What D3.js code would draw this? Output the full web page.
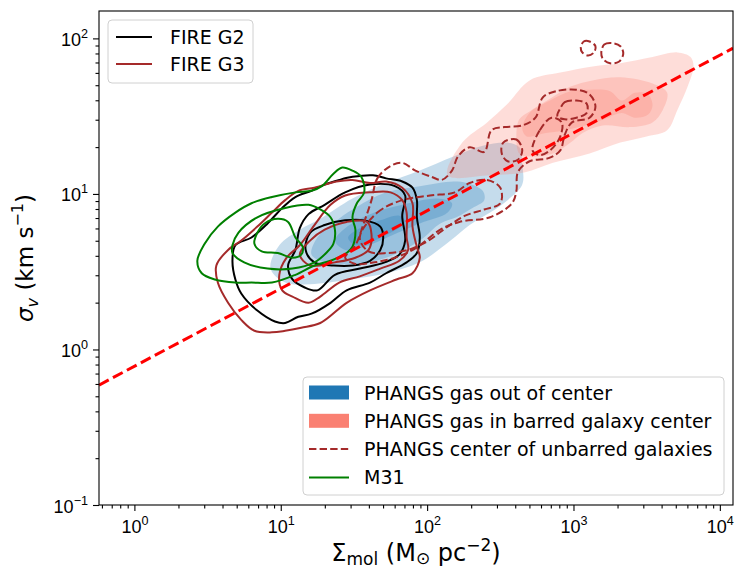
<!DOCTYPE html>
<html>
<head>
<meta charset="utf-8">
<script src="https://cdn.jsdelivr.net/npm/d3@7"></script>
<style>
  body { margin: 0; background: #fff; }
  svg { font-family: "DejaVu Sans", sans-serif; }
</style>
</head>
<body>
<div id="chart"></div>
<script>
// all contour points are [log10 Sigma_mol, log10 sigma_v]

// PHANGS gas out of center (filled, outer -> inner)
const blueLevels = [
  [[0.93,0.52],[0.99,0.67],[1.13,0.77],[1.27,0.84],[1.49,0.97],[1.72,1.07],[1.95,1.15],[2.18,1.24],[2.38,1.31],[2.55,1.33],[2.63,1.30],[2.65,1.19],[2.65,1.06],[2.55,0.96],[2.43,0.88],[2.29,0.80],[2.16,0.70],[1.95,0.56],[1.72,0.49],[1.47,0.45],[1.20,0.42],[1.03,0.43]],
  [[1.21,0.61],[1.25,0.72],[1.37,0.82],[1.49,0.90],[1.72,1.01],[1.95,1.05],[2.18,1.08],[2.27,1.07],[2.38,1.02],[2.39,0.96],[2.31,0.91],[2.20,0.85],[2.09,0.81],[1.95,0.70],[1.72,0.59],[1.49,0.55],[1.30,0.56]],
  [[1.37,0.70],[1.44,0.78],[1.61,0.87],[1.83,0.93],[2.07,0.97],[2.17,0.94],[2.14,0.88],[1.95,0.81],[1.75,0.73],[1.57,0.66],[1.44,0.64]],
  [[1.46,0.72],[1.54,0.78],[1.68,0.83],[1.81,0.86],[1.85,0.82],[1.75,0.75],[1.61,0.69],[1.51,0.67]]
];

// PHANGS gas in barred galaxy center (filled)
const pinkLevels = [
  [[2.14,1.12],[2.24,1.33],[2.41,1.46],[2.55,1.58],[2.70,1.73],[2.91,1.78],[3.13,1.82],[3.32,1.84],[3.54,1.88],[3.71,1.91],[3.80,1.88],[3.82,1.82],[3.78,1.69],[3.71,1.54],[3.64,1.41],[3.50,1.37],[3.32,1.33],[3.11,1.26],[2.86,1.20],[2.67,1.14],[2.43,1.12]],
  [[2.61,1.37],[2.63,1.48],[2.70,1.53],[2.82,1.60],[2.98,1.69],[3.13,1.73],[3.32,1.75],[3.54,1.71],[3.64,1.65],[3.61,1.54],[3.54,1.46],[3.39,1.43],[3.20,1.44],[3.06,1.39],[2.98,1.33],[2.86,1.26],[2.70,1.24],[2.63,1.26]],
  [[2.65,1.42],[2.70,1.52],[2.84,1.60],[2.98,1.66],[3.11,1.67],[3.25,1.66],[3.33,1.60],[3.42,1.65],[3.51,1.64],[3.54,1.57],[3.51,1.51],[3.42,1.49],[3.33,1.52],[3.21,1.48],[3.08,1.44],[2.94,1.41],[2.80,1.39],[2.68,1.37]]
];

// PHANGS center of unbarred galaxies (dashed)
const unbarredLevels = [
  [[1.62,0.96],[1.66,1.10],[1.75,1.18],[1.83,1.20],[1.92,1.15],[2.03,1.11],[2.10,1.09],[2.17,1.15],[2.21,1.24],[2.29,1.30],[2.39,1.27],[2.44,1.41],[2.53,1.43],[2.65,1.44],[2.74,1.49],[2.79,1.62],[2.88,1.66],[3.02,1.67],[3.11,1.64],[3.15,1.56],[3.11,1.49],[2.99,1.46],[2.94,1.38],[2.91,1.28],[2.83,1.23],[2.70,1.21],[2.62,1.14],[2.61,1.02],[2.58,0.94],[2.43,0.85],[2.22,0.82],[2.09,0.77],[1.92,0.65],[1.78,0.59],[1.64,0.56],[1.51,0.55],[1.44,0.59],[1.51,0.67],[1.57,0.82]],
  [[1.54,0.72],[1.66,0.88],[1.83,0.96],[2.02,0.99],[2.19,1.01],[2.29,1.07],[2.41,1.09],[2.50,1.04],[2.50,0.94],[2.39,0.90],[2.26,0.86],[2.14,0.79],[2.01,0.70],[1.87,0.64],[1.73,0.62],[1.60,0.63]],
  [[2.91,1.55],[2.94,1.59],[3.02,1.60],[3.09,1.58],[3.09,1.52],[3.02,1.49],[2.94,1.48],[2.89,1.50]],
  [[2.52,1.33],[2.61,1.35],[2.65,1.28],[2.62,1.22],[2.55,1.21],[2.51,1.26]],
  [[2.72,1.28],[2.77,1.41],[2.85,1.49],[2.92,1.46],[2.91,1.37],[2.84,1.28],[2.77,1.25]],
  [[3.05,1.94],[3.07,1.98],[3.11,1.98],[3.15,1.95],[3.14,1.91],[3.10,1.89],[3.06,1.91]],
  [[3.19,1.91],[3.21,1.96],[3.26,1.97],[3.32,1.95],[3.34,1.90],[3.31,1.85],[3.25,1.84],[3.20,1.87]]
];

const fireG2Levels = [
  [[0.69,0.67],[0.80,0.72],[0.91,0.81],[1.01,0.91],[1.10,0.98],[1.21,1.02],[1.30,1.06],[1.40,1.09],[1.49,1.11],[1.63,1.12],[1.72,1.10],[1.83,1.08],[1.90,1.04],[1.93,0.96],[1.93,0.85],[1.95,0.72],[1.93,0.62],[1.86,0.56],[1.72,0.49],[1.61,0.43],[1.45,0.38],[1.34,0.30],[1.21,0.23],[1.12,0.21],[1.03,0.17],[0.96,0.18],[0.84,0.25],[0.73,0.36],[0.69,0.45],[0.67,0.57]],
  [[1.13,0.78],[1.19,0.87],[1.30,0.93],[1.44,1.01],[1.61,1.06],[1.78,1.05],[1.85,0.99],[1.83,0.86],[1.85,0.70],[1.81,0.61],[1.71,0.56],[1.54,0.52],[1.37,0.48],[1.25,0.38],[1.16,0.40],[1.08,0.45],[1.05,0.54],[1.10,0.64]],
  [[1.20,0.75],[1.30,0.80],[1.44,0.83],[1.57,0.83],[1.68,0.79],[1.70,0.72],[1.68,0.64],[1.61,0.57],[1.49,0.54],[1.36,0.54],[1.23,0.56],[1.17,0.64]]
];

const fireG3Levels = [
  [[0.56,0.54],[0.64,0.64],[0.73,0.70],[0.84,0.79],[0.94,0.88],[1.03,0.96],[1.12,1.02],[1.23,1.04],[1.38,1.08],[1.49,1.09],[1.61,1.07],[1.72,1.08],[1.83,1.04],[1.90,0.94],[1.90,0.79],[1.93,0.66],[1.95,0.59],[1.90,0.49],[1.79,0.45],[1.61,0.38],[1.45,0.30],[1.27,0.17],[1.14,0.14],[1.03,0.12],[0.94,0.11],[0.82,0.12],[0.73,0.19],[0.64,0.30],[0.57,0.43]],
  [[0.99,0.48],[1.04,0.59],[1.13,0.67],[1.23,0.80],[1.34,0.93],[1.44,0.99],[1.61,1.01],[1.75,1.01],[1.83,0.96],[1.86,0.88],[1.86,0.72],[1.87,0.64],[1.81,0.57],[1.68,0.52],[1.54,0.47],[1.40,0.43],[1.27,0.34],[1.19,0.30],[1.08,0.34],[1.01,0.38]],
  [[1.13,0.61],[1.20,0.70],[1.30,0.77],[1.45,0.82],[1.59,0.82],[1.62,0.74],[1.60,0.64],[1.51,0.59],[1.37,0.56],[1.20,0.54]]
];

const m31Levels = [
  [[0.43,0.57],[0.48,0.68],[0.57,0.79],[0.69,0.88],[0.80,0.94],[0.94,0.98],[1.10,1.01],[1.21,1.02],[1.28,1.05],[1.36,1.13],[1.42,1.17],[1.49,1.15],[1.55,1.11],[1.57,1.01],[1.52,0.94],[1.49,0.85],[1.51,0.77],[1.49,0.66],[1.45,0.62],[1.34,0.57],[1.23,0.54],[1.10,0.48],[0.94,0.43],[0.80,0.43],[0.69,0.43],[0.55,0.45],[0.46,0.49]],
  [[0.67,0.67],[0.71,0.75],[0.84,0.85],[1.03,0.91],[1.19,0.93],[1.27,0.90],[1.34,0.85],[1.37,0.77],[1.36,0.68],[1.31,0.62],[1.23,0.56],[1.08,0.52],[0.91,0.52],[0.75,0.56],[0.67,0.62]],
  [[0.84,0.75],[0.89,0.81],[0.98,0.84],[1.05,0.82],[1.10,0.72],[1.15,0.66],[1.14,0.61],[1.08,0.59],[0.98,0.62],[0.87,0.63],[0.82,0.68]]
];

// sigma_v vs Sigma_mol relation, end points
const fitLine = [[0.573, 0.59], [12300, 86.5]];

const xTickExps = [0, 1, 2, 3, 4];
const yTickExps = [-1, 0, 1, 2];
const fireLegend = ['FIRE G2', 'FIRE G3'];
const phangsLegend = ['PHANGS gas out of center', 'PHANGS gas in barred galaxy center',
  'PHANGS center of unbarred galaxies', 'M31'];

const margin = { top: 11, right: 2, bottom: 65, left: 99 },
    width = 735 - margin.left - margin.right,
    height = 570 - margin.top - margin.bottom;

const blue = '#1f77b4', salmon = '#fa8072', brown = '#a52a2a';

const svg = d3.select('#chart')
  .append('svg')
  .attr('width', 735)
  .attr('height', 570);

const chart = svg.append('g')
  .attr('transform', `translate(${margin.left}, ${margin.top})`);

const x = d3.scaleLog().domain([0.573, 12300]).range([0, width]);
const y = d3.scaleLog().domain([0.1, 150]).range([height, 0]);

chart.append('clipPath').attr('id', 'clip')
  .append('rect').attr('width', width).attr('height', height);

const plot = chart.append('g').attr('clip-path', 'url(#clip)');

const contour = d3.line()
  .x(d => x(10 ** d[0]))
  .y(d => y(10 ** d[1]))
  .curve(d3.curveCatmullRomClosed.alpha(0.5));

// filled kde levels, stacked with alpha
plot.selectAll('.blue')
  .data(blueLevels)
  .join('path')
  .attr('class', 'blue')
  .attr('d', contour)
  .attr('fill', blue)
  .attr('fill-opacity', 0.26);

plot.selectAll('.pink')
  .data(pinkLevels)
  .join('path')
  .attr('class', 'pink')
  .attr('d', contour)
  .attr('fill', salmon)
  .attr('fill-opacity', 0.27);

function drawLines(levels, cls, color, dash) {
  plot.selectAll('.' + cls)
    .data(levels)
    .join('path')
    .attr('class', cls)
    .attr('d', contour)
    .attr('fill', 'none')
    .attr('stroke', color)
    .attr('stroke-width', 2)
    .attr('stroke-dasharray', dash);
}

drawLines(fireG2Levels, 'g2', '#000', null);
drawLines(fireG3Levels, 'g3', brown, null);
drawLines(m31Levels, 'm31', 'green', null);
drawLines(unbarredLevels, 'unbarred', brown, '7.4,3.2');

plot.append('path')
  .datum(fitLine)
  .attr('d', d3.line().x(d => x(d[0])).y(d => y(d[1])))
  .attr('fill', 'none')
  .attr('stroke', 'red')
  .attr('stroke-width', 3)
  .attr('stroke-dasharray', '11,4.8');

// axes
const xMinor = [], yMinor = [];
for (let k = -1; k <= 4; k++) {
  for (let m = 2; m <= 9; m++) {
    const v = m * 10 ** k;
    if (v > x.domain()[0] && v < x.domain()[1]) xMinor.push(v);
    if (v > y.domain()[0] && v < y.domain()[1]) yMinor.push(v);
  }
}

function styleAxis(g) {
  g.select('.domain').remove();
  g.selectAll('.tick line').attr('stroke', '#000').attr('stroke-width', 1.1);
}

chart.append('g')
  .attr('transform', `translate(0, ${height})`)
  .call(d3.axisBottom(x).tickValues(xMinor).tickSize(3.5).tickFormat(''))
  .call(styleAxis);

const xMajor = chart.append('g')
  .attr('transform', `translate(0, ${height})`)
  .call(d3.axisBottom(x).tickValues(xTickExps.map(e => 10 ** e)).tickSize(6).tickFormat(''))
  .call(styleAxis);

chart.append('g')
  .call(d3.axisLeft(y).tickValues(yMinor).tickSize(3.5).tickFormat(''))
  .call(styleAxis);

const yMajor = chart.append('g')
  .call(d3.axisLeft(y).tickValues(yTickExps.map(e => 10 ** e)).tickSize(6).tickFormat(''))
  .call(styleAxis);

function powLabel(text, e) {
  text.append('tspan').text('10');
  text.append('tspan')
    .attr('dy', -8)
    .style('font-size', '12.6px')
    .text(e < 0 ? '\u2212' + Math.abs(e) : e);
}

xMajor.selectAll('.tick')
  .data(xTickExps)
  .append('text')
  .attr('y', 28)
  .attr('fill', '#000')
  .attr('text-anchor', 'middle')
  .style('font-size', '18px')
  .each(function(e) { powLabel(d3.select(this), e); });

yMajor.selectAll('.tick')
  .data(yTickExps)
  .append('text')
  .attr('x', -11)
  .attr('y', 7)
  .attr('fill', '#000')
  .attr('text-anchor', 'end')
  .style('font-size', '18px')
  .each(function(e) { powLabel(d3.select(this), e); });

chart.append('rect')
  .attr('width', width)
  .attr('height', height)
  .attr('fill', 'none')
  .attr('stroke', '#000')
  .attr('stroke-width', 1.1);

// axis labels
const xLabel = chart.append('text')
  .attr('x', width / 2)
  .attr('y', height + 56)
  .attr('text-anchor', 'middle')
  .style('font-size', '24px');
xLabel.append('tspan').text('\u03a3');
xLabel.append('tspan').attr('dy', 4).style('font-size', '17px').text('mol');
xLabel.append('tspan').attr('dy', -4).text(' (M');
xLabel.append('tspan').attr('dy', 3).style('font-size', '17px').text('\u2299');
xLabel.append('tspan').attr('dy', -3).text(' pc');
xLabel.append('tspan').attr('dy', -10).style('font-size', '17px').text('\u22122');
xLabel.append('tspan').attr('dy', 10).text(')');

const yLabel = chart.append('text')
  .attr('transform', `translate(${-66}, ${height / 2}) rotate(-90)`)
  .attr('text-anchor', 'middle')
  .style('font-size', '23px');
yLabel.append('tspan').style('font-style', 'italic').text('\u03c3');
yLabel.append('tspan').attr('dy', 5).style('font-size', '16px').style('font-style', 'italic').text('v');
yLabel.append('tspan').attr('dy', -5).text(' (km s');
yLabel.append('tspan').attr('dy', -10).style('font-size', '16px').text('\u22121');
yLabel.append('tspan').attr('dy', 10).text(')');

// legend: FIRE runs
const leg1 = chart.append('g').attr('transform', 'translate(9, 9)');
leg1.append('rect')
  .attr('width', 145).attr('height', 63).attr('rx', 4)
  .attr('fill', '#fff').attr('fill-opacity', 0.8)
  .attr('stroke', '#d0d0d0');
const leg1Rows = leg1.selectAll('.row')
  .data(fireLegend)
  .join('g')
  .attr('transform', (d, i) => `translate(0, ${17 + i * 27})`);
leg1Rows.append('line')
  .attr('x1', 8).attr('x2', 44)
  .attr('stroke', (d, i) => i === 0 ? '#000' : brown)
  .attr('stroke-width', 2);
leg1Rows.append('text')
  .attr('x', 62).attr('y', 7)
  .style('font-size', '19px')
  .text(d => d);

// legend: PHANGS + M31
const leg2 = chart.append('g').attr('transform', 'translate(204, 366)');
leg2.append('rect')
  .attr('width', 421).attr('height', 118).attr('rx', 4)
  .attr('fill', '#fff').attr('fill-opacity', 0.8)
  .attr('stroke', '#d0d0d0');
const leg2Rows = leg2.selectAll('.row')
  .data(phangsLegend)
  .join('g')
  .attr('transform', (d, i) => `translate(0, ${15.5 + i * 28.3})`);
leg2Rows.each(function(d, i) {
  const row = d3.select(this);
  if (i < 2) {
    row.append('rect')
      .attr('x', 6).attr('y', -7).attr('width', 40).attr('height', 14)
      .attr('fill', i === 0 ? blue : salmon);
  } else {
    row.append('line')
      .attr('x1', 6).attr('x2', 46)
      .attr('stroke', i === 2 ? brown : 'green')
      .attr('stroke-width', 2)
      .attr('stroke-dasharray', i === 2 ? '7.4,3.2' : null);
  }
});
leg2Rows.append('text')
  .attr('x', 61).attr('y', 7)
  .style('font-size', '19px')
  .text(d => d);
</script>
</body>
</html>
